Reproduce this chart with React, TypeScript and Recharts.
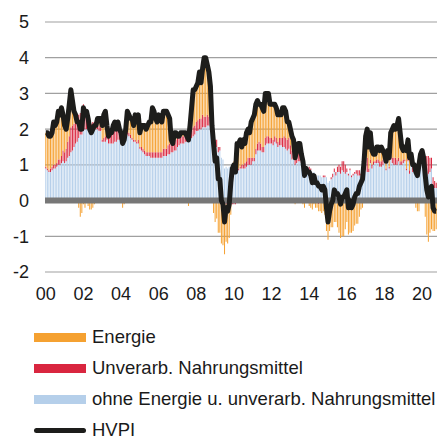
import { ComposedChart, Bar, Line, XAxis, YAxis, CartesianGrid, ReferenceLine } from 'recharts'

// Beiträge in Prozentpunkten, monatlich Jan 2000 – Okt 2020
const startYear = 2000

const energie = [
  0.95, 1.0, 0.95, 0.9, 0.95, 1.2, 1.1, 1.15, 1.35, 1.25, 1.35, 1.0,
  0.75, 0.55, 0.65, 0.9, 1.05, 0.7, 0.35, 0.2, 0.0, -0.2, -0.45, -0.35,
  -0.1, -0.2, 0.0, -0.15, -0.25, -0.25, -0.2, -0.1, -0.05, 0.15, 0.2, 0.25,
  0.4, 0.65, 0.7, 0.2, 0.05, 0.05, 0.05, 0.15, 0.2, 0.05, 0.15, 0.05,
  0.0, -0.2, -0.1, 0.1, 0.5, 0.5, 0.45, 0.55, 0.4, 0.7, 0.55, 0.7,
  0.4, 0.6, 0.65, 0.7, 0.65, 0.75, 0.85, 0.85, 1.25, 1.15, 0.95, 0.85,
  1.05, 0.95, 0.85, 1.05, 1.05, 1.05, 0.85, 0.7, 0.05, -0.05, 0.25, 0.2,
  0.05, 0.05, 0.1, 0.1, 0.1, 0.05, -0.05, -0.15, 0.2, 0.65, 1.05, 1.0,
  1.0, 1.05, 1.3, 1.0, 1.3, 1.65, 1.65, 1.4, 1.25, 0.9, 0.1, -0.35,
  -0.6, -0.5, -0.9, -0.9, -1.2, -1.2, -1.4, -1.05, -1.1, -0.95, -0.3, 0.15,
  0.2, 0.05, 0.7, 0.7, 0.75, 0.5, 0.7, 0.55, 0.8, 0.8, 0.7, 1.0,
  1.1, 1.2, 1.25, 1.2, 1.05, 1.1, 1.1, 1.0, 1.25, 1.2, 1.2, 0.95,
  0.95, 1.0, 0.9, 0.85, 0.75, 0.65, 0.65, 0.85, 0.8, 0.75, 0.5, 0.45,
  0.45, 0.4, 0.2, -0.1, 0.0, 0.15, 0.15, -0.05, -0.1, -0.2, 0.0, -0.05,
  -0.15, -0.2, -0.25, -0.1, -0.2, -0.15, -0.2, -0.25, -0.35, -0.3, -0.4, -0.8,
  -1.05, -0.85, -0.75, -0.75, -0.6, -0.6, -0.75, -0.9, -1.05, -1.0, -1.0, -0.8,
  -0.6, -0.95, -0.9, -0.9, -0.85, -0.7, -0.65, -0.65, -0.45, -0.25, -0.2, 0.2,
  0.7, 0.8, 0.6, 0.75, 0.4, 0.2, 0.2, 0.35, 0.35, 0.3, 0.4, 0.25,
  0.2, 0.2, 0.2, 0.25, 0.6, 0.8, 0.9, 0.8, 0.95, 1.1, 0.8, 0.4,
  0.25, 0.35, 0.5, 0.5, 0.35, 0.1, 0.05, -0.05, -0.2, -0.3, -0.3, 0.0,
  0.2, -0.05, -0.45, -0.95, -1.15, -0.9, -0.8, -0.85, -0.85, -0.8,
]

const unverarb = [
  0.05, 0.05, 0.05, 0.1, 0.1, 0.1, 0.1, 0.1, 0.15, 0.15, 0.2, 0.3,
  0.3, 0.35, 0.45, 0.55, 0.7, 0.7, 0.65, 0.6, 0.55, 0.65, 0.6, 0.5,
  0.75, 0.6, 0.5, 0.4, 0.25, 0.15, 0.15, 0.2, 0.15, 0.15, 0.15, 0.1,
  0.05, 0.1, 0.15, 0.2, 0.15, 0.25, 0.25, 0.35, 0.35, 0.3, 0.35, 0.25,
  0.15, 0.1, 0.05, 0.1, 0.15, 0.1, 0.1, 0.05, 0.05, 0.05, 0.05, 0.1,
  0.05, 0.1, 0.1, 0.1, 0.1, 0.1, 0.1, 0.15, 0.15, 0.15, 0.15, 0.15,
  0.15, 0.15, 0.15, 0.2, 0.2, 0.2, 0.25, 0.3, 0.3, 0.3, 0.25, 0.3,
  0.25, 0.2, 0.2, 0.2, 0.2, 0.2, 0.2, 0.2, 0.2, 0.2, 0.25, 0.25,
  0.25, 0.3, 0.3, 0.3, 0.35, 0.3, 0.3, 0.3, 0.25, 0.25, 0.1, 0.1,
  0.2, 0.2, 0.15, 0.1, 0.0, -0.05, -0.1, -0.1, -0.1, -0.1, -0.1, -0.1,
  -0.1, -0.1, 0.0, 0.05, 0.05, 0.1, 0.1, 0.15, 0.15, 0.2, 0.2, 0.2,
  0.1, 0.1, 0.15, 0.2, 0.25, 0.2, 0.15, 0.15, 0.2, 0.2, 0.2, 0.15,
  0.15, 0.15, 0.15, 0.15, 0.15, 0.2, 0.2, 0.25, 0.3, 0.3, 0.3, 0.3,
  0.25, 0.25, 0.3, 0.3, 0.35, 0.35, 0.35, 0.3, 0.25, 0.1, 0.05, 0.1,
  0.1, 0.05, 0.0, 0.0, 0.0, -0.05, -0.1, -0.05, 0.0, 0.05, 0.05, -0.05,
  -0.05, 0.0, 0.05, 0.1, 0.1, 0.1, 0.15, 0.2, 0.2, 0.25, 0.3, 0.25,
  0.1, 0.05, 0.05, 0.05, 0.05, 0.05, 0.1, 0.15, 0.15, 0.05, 0.05, 0.05,
  0.25, 0.4, 0.1, 0.1, 0.1, 0.1, 0.05, 0.1, 0.1, 0.15, 0.15, 0.15,
  0.05, 0.05, 0.15, 0.05, 0.15, 0.15, 0.2, 0.2, 0.15, 0.1, 0.1, 0.1,
  0.1, 0.05, 0.05, 0.1, 0.1, 0.15, 0.15, 0.25, 0.2, 0.15, 0.15, 0.15,
  0.15, 0.2, 0.25, 0.55, 0.5, 0.4, 0.3, 0.25, 0.2, 0.15,
]

const ohneEnergie = [
  0.9, 0.85, 0.8, 0.8, 0.85, 0.9, 0.9, 0.95, 1.0, 1.0, 1.05, 1.1,
  1.05, 1.1, 1.2, 1.25, 1.35, 1.4, 1.5, 1.6, 1.65, 1.75, 1.85, 1.85,
  1.95, 2.0, 2.0, 2.05, 2.0, 2.0, 2.05, 2.0, 2.0, 2.0, 1.95, 1.95,
  1.65, 1.65, 1.65, 1.7, 1.6, 1.6, 1.6, 1.6, 1.65, 1.65, 1.7, 1.7,
  1.75, 1.7, 1.75, 1.8, 1.85, 1.8, 1.75, 1.7, 1.65, 1.65, 1.6, 1.6,
  1.45, 1.4, 1.35, 1.3, 1.25, 1.25, 1.25, 1.2, 1.2, 1.2, 1.2, 1.2,
  1.2, 1.2, 1.2, 1.25, 1.25, 1.25, 1.3, 1.3, 1.35, 1.35, 1.4, 1.4,
  1.5, 1.55, 1.6, 1.6, 1.6, 1.65, 1.65, 1.65, 1.7, 1.75, 1.8, 1.85,
  1.95, 1.95, 2.0, 2.0, 2.05, 2.05, 2.05, 2.1, 2.1, 2.05, 1.9, 1.85,
  1.5, 1.5, 1.35, 1.4, 1.2, 1.15, 0.9, 0.95, 0.9, 0.95, 0.9, 0.85,
  0.9, 0.85, 0.9, 0.85, 0.9, 0.9, 0.9, 0.9, 0.95, 1.0, 1.0, 1.0,
  1.1, 1.1, 1.3, 1.4, 1.4, 1.4, 1.35, 1.35, 1.55, 1.6, 1.6, 1.6,
  1.6, 1.55, 1.65, 1.6, 1.5, 1.55, 1.55, 1.5, 1.5, 1.45, 1.4, 1.45,
  1.3, 1.15, 1.2, 1.0, 1.05, 1.1, 1.1, 1.05, 0.95, 0.8, 0.85, 0.75,
  0.85, 0.85, 0.75, 0.8, 0.7, 0.7, 0.7, 0.7, 0.65, 0.65, 0.65, 0.65,
  0.5, 0.55, 0.6, 0.65, 0.8, 0.7, 0.8, 0.8, 0.75, 0.85, 0.8, 0.75,
  0.8, 0.7, 0.85, 0.65, 0.7, 0.75, 0.75, 0.7, 0.7, 0.7, 0.75, 0.85,
  0.85, 0.8, 0.8, 1.05, 0.9, 1.0, 1.05, 1.05, 1.05, 0.95, 0.95, 1.0,
  1.05, 0.85, 1.05, 0.9, 1.15, 1.05, 1.0, 1.0, 1.0, 1.1, 1.0, 1.0,
  1.05, 1.1, 0.85, 1.1, 0.75, 1.05, 0.8, 0.8, 0.8, 0.85, 1.15, 1.15,
  1.05, 1.05, 0.9, 0.7, 0.75, 0.8, 0.9, 0.4, 0.35, 0.35,
]

// HVPI, Veränderung gegenüber Vorjahr in %
const hvpi = [
  1.9, 1.9, 1.8, 1.8, 1.9, 2.2, 2.1, 2.2, 2.5, 2.4, 2.6, 2.4,
  2.1, 2.0, 2.3, 2.7, 3.1, 2.8, 2.5, 2.4, 2.2, 2.2, 2.0, 2.0,
  2.6, 2.4, 2.5, 2.3, 2.0, 1.9, 2.0, 2.1, 2.1, 2.3, 2.3, 2.3,
  2.1, 2.4, 2.5, 2.1, 1.8, 1.9, 1.9, 2.1, 2.2, 2.0, 2.2, 2.0,
  1.9, 1.6, 1.7, 2.0, 2.5, 2.4, 2.3, 2.3, 2.1, 2.4, 2.2, 2.4,
  1.9, 2.1, 2.1, 2.1, 2.0, 2.1, 2.2, 2.2, 2.6, 2.5, 2.3, 2.2,
  2.4, 2.3, 2.2, 2.5, 2.5, 2.5, 2.4, 2.3, 1.7, 1.6, 1.9, 1.9,
  1.8, 1.8, 1.9, 1.9, 1.9, 1.9, 1.8, 1.7, 2.1, 2.6, 3.1, 3.1,
  3.2, 3.3, 3.6, 3.3, 3.7, 4.0, 4.0, 3.8, 3.6, 3.2, 2.1, 1.6,
  1.1, 1.2, 0.6, 0.6, 0.0, -0.1, -0.6, -0.2, -0.3, -0.1, 0.5, 0.9,
  1.0, 0.8, 1.6, 1.6, 1.7, 1.5, 1.7, 1.6, 1.9, 2.0, 1.9, 2.2,
  2.3, 2.4, 2.7, 2.8, 2.7, 2.7, 2.6, 2.5, 3.0, 3.0, 3.0, 2.7,
  2.7, 2.7, 2.7, 2.6, 2.4, 2.4, 2.4, 2.6, 2.6, 2.5, 2.2, 2.2,
  2.0, 1.8, 1.7, 1.2, 1.4, 1.6, 1.6, 1.3, 1.1, 0.7, 0.9, 0.8,
  0.8, 0.7, 0.5, 0.7, 0.5, 0.5, 0.4, 0.4, 0.3, 0.4, 0.3, -0.2,
  -0.6, -0.3, -0.1, 0.0, 0.3, 0.2, 0.2, 0.1, -0.1, 0.1, 0.1, 0.2,
  0.3, -0.2, 0.0, -0.2, -0.1, 0.1, 0.2, 0.2, 0.4, 0.5, 0.6, 1.1,
  1.8, 2.0, 1.5, 1.9, 1.4, 1.3, 1.3, 1.5, 1.5, 1.4, 1.5, 1.4,
  1.3, 1.1, 1.4, 1.2, 1.9, 2.0, 2.1, 2.0, 2.1, 2.3, 1.9, 1.5,
  1.4, 1.5, 1.4, 1.7, 1.2, 1.3, 1.0, 1.0, 0.8, 0.7, 1.0, 1.3,
  1.4, 1.2, 0.7, 0.3, 0.1, 0.3, 0.4, -0.2, -0.3, -0.3,
]

const yTicks = [-2, -1, 0, 1, 2, 3, 4, 5]
const xTickLabels = ['00', '02', '04', '06', '08', '10', '12', '14', '16', '18', '20']

const months = hvpi.map((_, i) => `${startYear + Math.floor(i / 12)}-${String((i % 12) + 1).padStart(2, '0')}`)
const xTicks = xTickLabels.map((l) => `20${l}-01`)

const data = months.map((month, i) => ({
  month,
  ohneEnergie: ohneEnergie[i],
  unverarb: unverarb[i],
  energie: energie[i],
  hvpi: hvpi[i],
}))

const font = '"Liberation Sans", Arial, sans-serif'
const colors = {
  energie: '#f5a131',
  unverarb: '#d9263f',
  ohneEnergie: '#b5cfea',
  hvpi: '#1d1d1b',
}

const legendItems = [
  { label: 'Energie', color: colors.energie, line: false },
  { label: 'Unverarb. Nahrungsmittel', color: colors.unverarb, line: false },
  { label: 'ohne Energie u. unverarb. Nahrungsmittel', color: colors.ohneEnergie, line: false },
  { label: 'HVPI', color: colors.hvpi, line: true },
]

export default function App() {
  return (
    <div style={{ position: 'absolute', left: 0, top: 0, width: 440, height: 440, background: '#fff', fontFamily: font }}>
      <ComposedChart
        width={440}
        height={304}
        data={data}
        stackOffset="sign"
        barCategoryGap="18%"
        margin={{ top: 22, right: 3, left: 0, bottom: 0 }}
      >
        <CartesianGrid vertical={false} stroke="#a0a0a0" strokeWidth={1.2} />
        <XAxis
          dataKey="month"
          ticks={xTicks}
          tickFormatter={(v: string) => v.slice(2, 4)}
          axisLine={false}
          tickLine={false}
          tickSize={7}
          tickMargin={8}
          height={32}
          interval={0}
          tick={{ fill: '#1a1a1a', fontSize: 18, fontFamily: font }}
        />
        <YAxis
          type="number"
          domain={[-2, 5]}
          ticks={yTicks}
          axisLine={false}
          tickLine={false}
          tickSize={8}
          tickMargin={8}
          width={45}
          tick={{ fill: '#1a1a1a', fontSize: 18, fontFamily: font }}
        />
        <Bar dataKey="ohneEnergie" stackId="a" fill={colors.ohneEnergie} isAnimationActive={false} />
        <Bar dataKey="unverarb" stackId="a" fill={colors.unverarb} isAnimationActive={false} />
        <Bar dataKey="energie" stackId="a" fill={colors.energie} isAnimationActive={false} />
        <ReferenceLine y={0} stroke="#777777" strokeWidth={6} />
        <Line
          dataKey="hvpi"
          type="linear"
          stroke={colors.hvpi}
          strokeWidth={5}
          strokeLinejoin="round"
          dot={false}
          activeDot={false}
          isAnimationActive={false}
        />
      </ComposedChart>

      {/* Legende */}
      {legendItems.map((item, i) => (
        <div
          key={item.label}
          style={{
            position: 'absolute',
            left: 34,
            top: 326 + i * 31,
            height: 22,
            display: 'flex',
            alignItems: 'center',
            fontSize: 18.5,
            color: '#1a1a1a',
            whiteSpace: 'nowrap',
          }}
        >
          <div
            style={{
              width: 52,
              height: item.line ? 5 : 9,
              borderRadius: item.line ? 3 : 0,
              background: item.color,
              marginRight: 6,
            }}
          />
          <span>{item.label}</span>
        </div>
      ))}
    </div>
  )
}
